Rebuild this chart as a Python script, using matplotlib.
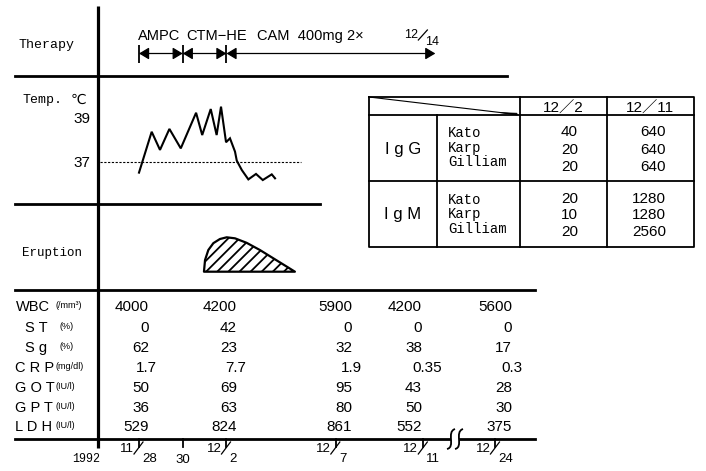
import matplotlib
matplotlib.use("Agg")
import matplotlib.pyplot as plt
from matplotlib.path import Path
from matplotlib.patches import PathPatch, Rectangle, Polygon, ArrowStyle

W, H = 706, 471
DPI = 100
SANS = ["Liberation Sans", "DejaVu Sans"]
SANS_CJK = ["Liberation Sans", "Noto Sans CJK JP", "DejaVu Sans"]
MONO = ["Liberation Mono", "DejaVu Sans Mono"]
plt.rcParams["hatch.linewidth"] = 1.3

# ---------------- data ----------------
# time axis: days after 11/28 (axis is broken between 12/14 and 12/24)
tick_num = ["11", "", "12", "12", "12", "12"]
tick_den = ["28", "30", "2", "7", "11", "24"]
tick_pos = [0, 2, 4, 9, 13, 16.3]

therapy_names = ["AMPC", "CTM−HE", "CAM  400mg 2×"]
therapy_start = [0, 2, 4]
therapy_end = [2, 4, 13.55]
therapy_end_label = ["12", "14"]

temp_day = [0.0, 0.58, 0.96, 1.39, 1.91, 2.61, 2.89, 3.28, 3.55, 3.75,
            3.98, 4.16, 4.39, 4.47, 4.70, 5.00, 5.35, 5.66, 6.07, 6.22]
temp_c = [36.50, 38.37, 37.54, 38.50, 37.61, 39.24, 38.22, 39.41, 38.22, 39.52,
          37.89, 38.07, 37.46, 37.05, 36.62, 36.19, 36.44, 36.16, 36.42, 36.24]
temp_ticks = [37, 39]

erupt_day = [2.97, 3.02, 3.17, 3.40, 3.70, 4.01, 4.39, 4.92, 5.53, 6.14, 6.75, 7.13]
erupt_level = [0, 0.34, 0.63, 0.83, 0.95, 1.0, 0.97, 0.84, 0.63, 0.39, 0.15, 0]

lab_names = ["WBC", "S T", "S g", "C R P", "G O T", "G P T", "L D H"]
lab_units = ["(/mm³)", "(%)", "(%)", "(mg/dl)", "(IU/l)", "(IU/l)", "(IU/l)"]
lab_values = [
    ["4000", "4200", "5900", "4200", "5600"],
    ["0", "42", "0", "0", "0"],
    ["62", "23", "32", "38", "17"],
    ["1.7", "7.7", "1.9", "0.35", "0.3"],
    ["50", "69", "95", "43", "28"],
    ["36", "63", "80", "50", "30"],
    ["529", "824", "861", "552", "375"],
]

ab_dates = ["12／2", "12／11"]
ab_classes = ["I g G", "I g M"]
ab_methods = ["Kato", "Karp", "Gilliam"]
igg_titers = [[40, 640], [20, 640], [20, 640]]
igm_titers = [[20, 1280], [10, 1280], [20, 2560]]

# ---------------- layout ----------------
X0 = 139.0          # pixel of day 0
PXD = 21.87         # pixels per day
POS_L, POS_R = (0 - X0) / PXD, (W - X0) / PXD

fig = plt.figure(figsize=(W / DPI, H / DPI), dpi=DPI)
fig.patch.set_facecolor("white")

ax = fig.add_axes([0, 0, 1, 1])
ax.set_xlim(0, W)
ax.set_ylim(H, 0)
ax.axis("off")


def data_axes(top_px, bot_px, y_top, y_bot):
    a = fig.add_axes([0, 1 - bot_px / H, 1, (bot_px - top_px) / H])
    a.set_xlim(POS_L, POS_R)
    a.set_ylim(y_bot, y_top)
    a.axis("off")
    a.patch.set_alpha(0)
    return a


axt = data_axes(0, H, 0, H)   # time on x, pixels on y


def px(pos):
    return ax.transData.inverted().transform(axt.transData.transform((pos, 0)))[0]


def txt(x, yc, s, size, family=SANS, ha="left", cap=0.716, **kw):
    base = yc + cap * size * DPI / 72 / 2
    ax.text(x, base, s, fontsize=size, family=family, ha=ha, va="baseline", **kw)


# ---------- frame ----------
LW = 2.0
ax.plot([97.5, 97.5], [6, 448], color="black", lw=2.3, solid_capstyle="butt")
ax.plot([15, 507], [75.5, 75.5], color="black", lw=LW)
ax.plot([15, 320], [203.5, 203.5], color="black", lw=LW)
ax.plot([15, 535], [290, 290], color="black", lw=LW)
ax.plot([15, 535], [439, 439], color="black", lw=LW)

# break on time axis
ax.add_patch(Rectangle((451, 434), 8, 10, facecolor="white", edgecolor="none", zorder=3))
for x0 in (447, 455):
    p = Path([(x0, 449), (x0 + 9, 447), (x0 - 1, 432), (x0 + 8, 429)],
             [Path.MOVETO, Path.CURVE4, Path.CURVE4, Path.CURVE4])
    ax.add_patch(PathPatch(p, facecolor="none", edgecolor="black", lw=1.3, zorder=4))

# ---------- section labels ----------
txt(18, 44, "Therapy", 9.5, MONO, cap=0.57)
txt(22, 99, "Temp.", 9.5, MONO, cap=0.57)
txt(71, 99, "℃", 10, ["DejaVu Sans"])
txt(22, 252, "Eruption", 9, MONO, cap=0.57)
txt(72, 459, "1992", 8.5, MONO, cap=0.57)

# ---------- therapy ----------
ARROW = ArrowStyle("<|-|>", head_length=0.6, head_width=0.36)
for s, e in zip(therapy_start, therapy_end):
    axt.annotate("", xy=(e, 53.5), xytext=(s, 53.5),
                 arrowprops=dict(arrowstyle=ARROW, mutation_scale=10, shrinkA=0,
                                 shrinkB=0, lw=0.9, color="black"))
axt.vlines(therapy_start, 45, 63, color="black", lw=1.3)
name_dx = [-1, 4, 31]
for name, s, dx in zip(therapy_names, therapy_start, name_dx):
    txt(px(s) + dx, 35, name, 10.5)
tip = px(therapy_end[-1])
txt(tip - 17, 34, therapy_end_label[0], 9, ha="right")
ax.plot([tip - 17, tip - 8], [40, 30], color="black", lw=0.9)
txt(tip - 10, 40.5, therapy_end_label[1], 9)

# ---------- temperature ----------
TT, TB = 88, 200
t_top = 37 + (161.7 - TT) / 21.85
t_bot = 37 - (TB - 161.7) / 21.85
axT = data_axes(TT, TB, t_top, t_bot)
axT.plot(temp_day, temp_c, color="black", lw=1.5, solid_joinstyle="miter")
axT.hlines(37, (100 - X0) / PXD, (301 - X0) / PXD, color="black", lw=0.8,
           linestyles=(0, (2.0, 1.4)))
for tv in temp_ticks:
    yp = ax.transData.inverted().transform(axT.transData.transform((0, tv)))[1]
    txt(90, yp, str(tv), 11, ha="right")

# ---------- eruption ----------
ET, EB = 225, 280
axE = data_axes(ET, EB, (271.7 - ET) / 34.4, (271.7 - EB) / 34.4)
axE.fill_between(erupt_day, 0, erupt_level, facecolor="white", edgecolor="black",
                 hatch="///", lw=1.6)

# ---------- lab values ----------
row_y = [306, 326.5, 347, 367, 387, 406.5, 426]
name_x = [15.5, 25, 25, 15, 15, 15, 15]
unit_x = [55, 59, 59, 56, 55, 55, 55]
col_right = [149, 237, 352, 422, 512]
crp_right = [157, 246, 362, 442, 522]
for r, (nm, un, vals) in enumerate(zip(lab_names, lab_units, lab_values)):
    y = row_y[r]
    txt(name_x[r], y, nm, 10.5)
    txt(unit_x[r], y - 1, un, 6.5)
    rights = crp_right if r == 3 else col_right
    for v, xr in zip(vals, rights):
        txt(xr, y, v, 11, ha="right")

# ---------- time axis ticks ----------
for num, den, pos in zip(tick_num, tick_den, tick_pos):
    xt = px(pos)
    ax.plot([xt, xt], [439, 447], color="black", lw=1.3)
    if num:
        txt(xt - 5, 447, num, 9.5, ha="right")
        ax.plot([xt - 5, xt + 4], [454, 442], color="black", lw=0.9)
        txt(xt + 3, 457.5, den, 9.5)
    else:
        txt(xt, 458, den, 9.5, ha="center")

# ---------- antibody table ----------
TL, TR, TTOP, TBOT = 369, 694, 97, 247
HB, MID = 115, 181
C1, C2, C3 = 436.7, 520, 606.7
tlw = 1.3
ax.plot([TL, TR, TR, TL, TL], [TTOP, TTOP, TBOT, TBOT, TTOP], color="black", lw=tlw)
ax.plot([TL, TR], [HB, HB], color="black", lw=tlw)
ax.plot([TL, TR], [MID, MID], color="black", lw=tlw)
ax.plot([C1, C1], [HB, TBOT], color="black", lw=tlw)
ax.plot([C2, C2], [TTOP, TBOT], color="black", lw=tlw)
ax.plot([C3, C3], [TTOP, TBOT], color="black", lw=tlw)
ax.plot([TL, 517], [TTOP, HB - 0.5], color="black", lw=0.8)
ax.add_patch(Polygon([(500, 112.6), (517, 113.2), (517, 115)], closed=True,
                     facecolor="black", edgecolor="black", lw=0.5))

txt((C2 + C3) / 2, 107.5, ab_dates[0], 11, SANS_CJK, ha="center")
txt((C3 + TR) / 2, 107.5, ab_dates[1], 11, SANS_CJK, ha="center")

cls_y = [148.5, 213.5]
meth_y = [[133, 148, 162], [200, 214.5, 229]]
val_y = [[131, 149, 166], [198, 214, 231]]
for k, (cls, titers) in enumerate(zip(ab_classes, [igg_titers, igm_titers])):
    txt((TL + C1) / 2, cls_y[k], cls, 12, ha="center")
    for j, m in enumerate(ab_methods):
        txt(448, meth_y[k][j], m, 10, MONO, cap=0.57)
        txt(578, val_y[k][j], str(titers[j][0]), 11, ha="right")
        txt(666, val_y[k][j], str(titers[j][1]), 11, ha="right")

fig.savefig("out.png", dpi=DPI, facecolor="white")
